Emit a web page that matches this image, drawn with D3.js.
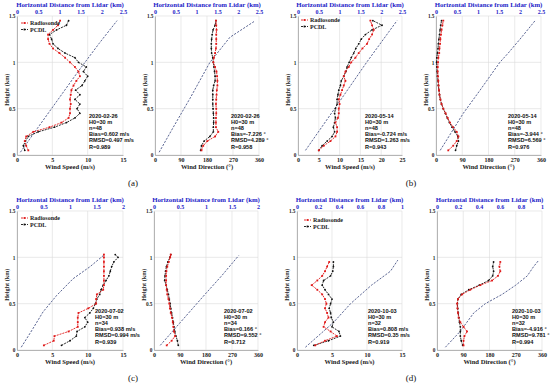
<!DOCTYPE html>
<html>
<head>
<meta charset="utf-8">
<script src="https://cdn.jsdelivr.net/npm/d3@7"></script>
<style>
body { margin: 0; background: #fff; }
svg { display: block; }
</style>
</head>
<body>
<script>
// 高度 (km)
const heightAB = [0.05,0.10,0.15,0.20,0.25,0.30,0.35,0.40,0.45,0.50,0.55,0.60,0.65,0.70,0.75,0.80,0.85,0.90,0.95,1.00,1.05,1.10,1.15,1.20,1.25,1.30,1.35,1.40,1.45];
const heightC = [0.05,0.10,0.15,0.20,0.25,0.30,0.35,0.40,0.45,0.50,0.55,0.60,0.65,0.70,0.75,0.80,0.85,0.90,0.95,1.00,1.03];
const heightD = [0.05,0.10,0.15,0.20,0.25,0.30,0.35,0.40,0.45,0.50,0.55,0.60,0.65,0.70,0.75,0.80,0.85,0.90,0.95];

// 2020-02-26
const speedRadA = [1.6,1.3,1.1,1.3,2.3,4.6,6.3,7.3,7.5,7.5,7.6,7.5,7.6,7.7,8.0,8.4,8.9,8.7,8.2,7.5,6.8,6.0,5.1,4.6,4.4,4.4,5.1,5.8,6.1];
const speedPcdlA = [1.1,0.9,1.2,1.6,3.0,5.3,7.0,8.2,8.9,8.5,8.9,8.2,8.9,8.3,9.2,9.6,10.0,9.4,9.8,8.7,8.2,6.8,5.8,5.1,4.9,4.6,5.6,7.0,7.3];
const dirRadA = [161,167,181,208,219,211,211,211,212,212,211,212,213,214,216,216,215,213,208,202,204,208,211,212,212,212,213,212,211];
const dirPcdlA = [158,161,170,190,202,202,203,203,202,201,200,200,200,200,203,208,208,206,204,202,200,196,195,195,196,198,201,208,211];
const distSpeedA = [[0.03,0.08],[0.3,0.5],[0.6,0.97],[0.9,1.44],[1.2,1.93],[1.45,2.36]];
const distDirA = [[0.03,0.1],[0.3,0.44],[0.61,0.84],[1.0,1.32],[1.27,1.8],[1.44,2.38]];

// 2020-05-14
const speedRadB = [5.0,6.2,7.8,9.0,9.4,9.4,9.0,9.6,9.8,9.8,10.0,9.8,10.2,10.6,11.0,11.4,11.0,11.4,12.2,12.8,13.8,14.6,15.5,16.6,17.1,17.8,18.2,17.8,17.4];
const speedPcdlB = [5.0,5.8,7.0,8.2,8.8,8.5,8.8,9.0,8.8,9.0,9.4,9.4,9.6,9.8,10.2,10.4,11.0,11.5,11.8,12.3,12.8,13.4,13.9,14.6,15.2,16.2,17.8,20.2,18.0];
const dirRadB = [42,59,71,77,71,59,48,40,33,25,19,15,12,10,9,8,7,6,6,7,8,11,12,14,15,17,19,22,25];
const dirPcdlB = [67,71,77,75,65,55,46,39,32,25,19,15,12,10,8,7,5,4,3,2,3,5,7,8,10,12,14,16,19];
const distSpeedB = [[0.05,0.18],[0.5,0.88],[1.0,1.65],[1.45,2.38]];
const distDirB = [[0.05,0.1],[0.45,0.65],[0.7,1.05],[1.0,1.52],[1.1,1.72],[1.25,2.0],[1.45,2.36]];

// 2020-07-02
const speedRadC = [3.8,5.2,5.3,7.3,8.6,8.6,8.6,8.7,10.1,11.2,11.2,11.3,12.2,12.3,12.3,12.3,12.3,12.3,12.3,12.3,12.3];
const speedPcdlC = [6.3,7.5,8.4,8.5,9.6,10.0,9.6,10.3,10.8,11.1,11.3,11.7,11.9,12.2,12.6,13.0,13.2,13.4,13.7,14.3,13.9];
const dirRadC = [44,61,73,69,67,65,62,58,55,53,50,46,44,42,42,42,43,46,51,56,58];
const dirPcdlC = [84,81,76,72,69,67,64,61,58,56,53,50,46,42,37,38,40,43,48,55,58];
const distSpeedC = [[0.03,0.08],[0.23,0.3],[0.41,0.49],[0.59,0.75],[0.77,1.06],[0.9,1.38],[1.02,1.63]];
const distDirC = [[0.05,0.12],[0.3,0.51],[0.6,0.98],[0.8,1.3],[1.02,1.63]];

// 2020-10-03
const speedRadD = [2.6,4.0,5.7,4.8,3.8,4.0,4.5,4.3,4.0,4.2,4.0,3.6,2.9,2.1,2.9,3.6,4.0,4.3,4.6];
const speedPcdlD = [2.4,4.5,6.2,6.0,5.0,5.2,4.9,4.8,4.6,4.8,5.0,4.5,4.0,3.6,3.8,4.8,5.1,5.2,5.2];
const dirRadD = [91,91,94,103,91,80,74,72,70,69,72,86,114,149,189,209,217,214,217];
const dirPcdlD = [88,83,80,80,80,77,75,73,71,70,72,83,109,145,177,191,194,191,194];
const distSpeedD = [[0.03,0.08],[0.3,0.35],[0.5,0.51],[0.7,0.71],[0.85,0.89],[0.97,0.96]];
const distDirD = [[0.03,0.08],[0.2,0.22],[0.4,0.35],[0.5,0.46],[0.6,0.62],[0.7,0.75],[0.8,0.86],[0.9,0.92],[0.97,0.97]];

// 刻度
const heightTicks = [0, 0.5, 1, 1.5];
const speedTicks15 = [0, 5, 10, 15];
const speedTicks25 = [0, 5, 10, 15, 20, 25];
const dirTicks = [0, 90, 180, 270, 360];
const distTicks25 = [0, 0.5, 1, 1.5, 2, 2.5];
const distTicks2 = [0, 0.5, 1, 1.5, 2];
const distTicks1 = [0, 0.2, 0.4, 0.6, 0.8, 1];

const statsA = ["2020-02-26", "H0=30 m", "n=48"];
const statsB = ["2020-05-14", "H0=30 m", "n=48"];
const statsC = ["2020-07-02", "H0=30 m", "n=34"];
const statsD = ["2020-10-03", "H0=30 m", "n=32"];

const W = 550, H = 390;
const serif = "'Liberation Serif', 'DejaVu Serif', serif";
const sans = "'Liberation Sans', Arial, sans-serif";
const blue = "#2424c8";

const svg = d3.select('body').append('svg')
    .attr('width', W)
    .attr('height', H);

// 单个子图
function createPanel(opt) {
    const { left, top, width, height, xMax, xTicks, topMax, topTicks, xTitle, heights, rad, pcdl, dist, stats, statsX, legend } = opt;
    const x = d3.scaleLinear().domain([0, xMax]).range([left, left + width]);
    const xt = d3.scaleLinear().domain([0, topMax]).range([left, left + width]);
    const y = d3.scaleLinear().domain([0, 1.5]).range([top + height, top]);
    const g = svg.append('g');

    // 网格
    g.append('g').selectAll('line').data(xTicks).join('line')
        .attr('x1', d => x(d)).attr('x2', d => x(d))
        .attr('y1', y(0)).attr('y2', y(1.5))
        .attr('stroke', '#dcdcdc').attr('stroke-width', 0.6);
    g.append('g').selectAll('line').data(heightTicks).join('line')
        .attr('x1', x(0)).attr('x2', x(xMax))
        .attr('y1', d => y(d)).attr('y2', d => y(d))
        .attr('stroke', '#dcdcdc').attr('stroke-width', 0.6);

    // 坐标轴
    const gy = g.append('g').attr('transform', `translate(${left},0)`)
        .call(d3.axisLeft(y).tickValues(heightTicks).tickSize(0).tickPadding(1.5).tickFormat(d3.format('')));
    const gx = g.append('g').attr('transform', `translate(0,${top + height})`)
        .call(d3.axisBottom(x).tickValues(xTicks).tickSize(0).tickPadding(3).tickFormat(d3.format('')));
    const gt = g.append('g').attr('transform', `translate(0,${top})`)
        .call(d3.axisTop(xt).tickValues(topTicks).tickSize(0).tickPadding(2).tickFormat(d3.format('')));
    [gy, gx, gt].forEach(a => {
        a.select('.domain').attr('stroke', '#9a9a9a').attr('stroke-width', 0.7);
        a.selectAll('text').attr('font-family', serif).attr('font-weight', 'bold').attr('font-size', 6).attr('fill', '#222');
    });
    gy.selectAll('text').attr('font-size', 5.3);
    gt.select('.domain').remove();
    gt.selectAll('text').attr('fill', blue);

    // 标题
    g.append('text').attr('x', left + width / 2).attr('y', top - 9)
        .attr('text-anchor', 'middle').attr('font-family', serif).attr('font-weight', 'bold')
        .attr('font-size', 6.8).attr('fill', blue)
        .text('Horizontal Distance from Lidar (km)');
    g.append('text').attr('x', left + width / 2).attr('y', top + height + 13.5)
        .attr('text-anchor', 'middle').attr('font-family', serif).attr('font-weight', 'bold')
        .attr('font-size', 6.6).attr('fill', '#222')
        .text(xTitle);
    g.append('text')
        .attr('transform', `translate(${left - 8.5},${top + height * 0.53}) rotate(-90)`)
        .attr('text-anchor', 'middle').attr('font-family', serif).attr('font-weight', 'bold')
        .attr('font-size', 6.2).attr('fill', '#222')
        .text('Height (km)');

    // 距离曲线
    const distLine = d3.line().x(d => xt(d[1])).y(d => y(d[0]));
    g.append('path').datum(dist)
        .attr('fill', 'none').attr('stroke', '#4a5688').attr('stroke-width', 0.9)
        .attr('stroke-dasharray', '2.2,1.4').attr('d', distLine);

    const line = d3.line().x(d => x(d[1])).y(d => y(d[0]));
    const series = [
        { name: 'PCDL', vals: pcdl, color: '#111', shape: 'dot' },
        { name: 'Radiosonde', vals: rad, color: '#e01818', shape: 'square' }
    ];
    series.forEach(s => {
        const pts = heights.map((h, i) => [h, s.vals[i]]);
        g.append('path').datum(pts)
            .attr('fill', 'none').attr('stroke', s.color).attr('stroke-width', 0.9)
            .attr('stroke-dasharray', '2,1').attr('d', line);
        const m = g.append('g').attr('fill', s.color).selectAll('rect').data(pts).join('rect')
            .attr('x', d => x(d[1]) - 0.9).attr('y', d => y(d[0]) - 0.9)
            .attr('width', 1.8).attr('height', 1.8);
        if (s.shape === 'dot') m.attr('rx', 0.9);
    });

    // 统计信息
    const st = g.append('g').attr('font-family', sans).attr('font-weight', 'bold')
        .attr('font-size', 5.6).attr('fill', '#111');
    st.selectAll('text').data(stats).join('text')
        .attr('x', statsX).attr('y', (d, i) => top + 101.5 + i * 6.2)
        .text(d => d);

    // 图例
    if (legend) {
        const lg = g.append('g').attr('transform', `translate(${legend[0]},${legend[1]})`);
        const item = lg.selectAll('g').data(series.slice().reverse()).join('g')
            .attr('transform', (d, i) => `translate(0,${i * 6.5})`);
        item.append('line').attr('x1', 0).attr('x2', 7).attr('y1', 0).attr('y2', 0)
            .attr('stroke', d => d.color).attr('stroke-width', 0.9).attr('stroke-dasharray', '2,1');
        item.append('rect').attr('x', 2.6).attr('y', -0.9).attr('width', 1.8).attr('height', 1.8)
            .attr('fill', d => d.color);
        item.append('text').attr('x', 9).attr('y', 2).attr('font-family', serif).attr('font-weight', 'bold')
            .attr('font-size', 6).attr('fill', '#222').text(d => d.name);
    }
}

const rowTop = [16, 211];
const ph = 139;
const spTitle = 'Wind Speed  (m/s)';
const drTitle = 'Wind Direction  (\u00b0)';

createPanel({ left: 17, top: rowTop[0], width: 106, height: ph, xMax: 15, xTicks: speedTicks15, topMax: 2.5, topTicks: distTicks25,
    xTitle: spTitle, heights: heightAB, rad: speedRadA, pcdl: speedPcdlA, dist: distSpeedA,
    stats: statsA.concat(["Bias=0.602 m/s", "RMSD=0.497 m/s", "R=0.989"]), statsX: 89, legend: [21, 23] });
createPanel({ left: 155, top: rowTop[0], width: 104, height: ph, xMax: 360, xTicks: dirTicks, topMax: 2.5, topTicks: distTicks25,
    xTitle: drTitle, heights: heightAB, rad: dirRadA, pcdl: dirPcdlA, dist: distDirA,
    stats: statsA.concat(["Bias=-7.226 \u00b0", "RMSD=4.289 \u00b0", "R=0.958"]), statsX: 231 });
createPanel({ left: 298, top: rowTop[0], width: 104, height: ph, xMax: 25, xTicks: speedTicks25, topMax: 2.5, topTicks: distTicks25,
    xTitle: spTitle, heights: heightAB, rad: speedRadB, pcdl: speedPcdlB, dist: distSpeedB,
    stats: statsB.concat(["Bias=-0.724 m/s", "RMSD=1.263 m/s", "R=0.943"]), statsX: 365, legend: [301, 20] });
createPanel({ left: 436, top: rowTop[0], width: 105, height: ph, xMax: 360, xTicks: dirTicks, topMax: 2.5, topTicks: distTicks25,
    xTitle: drTitle, heights: heightAB, rad: dirRadB, pcdl: dirPcdlB, dist: distDirB,
    stats: statsB.concat(["Bias=-3.944 \u00b0", "RMSD=6.569 \u00b0", "R=0.976"]), statsX: 508 });

createPanel({ left: 17, top: rowTop[1], width: 106, height: ph, xMax: 15, xTicks: speedTicks15, topMax: 2, topTicks: distTicks2,
    xTitle: spTitle, heights: heightC, rad: speedRadC, pcdl: speedPcdlC, dist: distSpeedC,
    stats: statsC.concat(["Bias=0.938 m/s", "RMSD=0.994 m/s", "R=0.939"]), statsX: 95, legend: [21, 218] });
createPanel({ left: 154, top: rowTop[1], width: 104, height: ph, xMax: 360, xTicks: dirTicks, topMax: 2, topTicks: distTicks2,
    xTitle: drTitle, heights: heightC, rad: dirRadC, pcdl: dirPcdlC, dist: distDirC,
    stats: statsC.concat(["Bias=0.166 \u00b0", "RMSD=9.552 \u00b0", "R=0.712"]), statsX: 224 });
createPanel({ left: 297, top: rowTop[1], width: 105, height: ph, xMax: 15, xTicks: speedTicks15, topMax: 1, topTicks: distTicks1,
    xTitle: spTitle, heights: heightD, rad: speedRadD, pcdl: speedPcdlD, dist: distSpeedD,
    stats: statsD.concat(["Bias=0.808 m/s", "RMSD=0.35 m/s", "R=0.919"]), statsX: 368, legend: [304, 220] });
createPanel({ left: 437, top: rowTop[1], width: 105, height: ph, xMax: 360, xTicks: dirTicks, topMax: 1, topTicks: distTicks1,
    xTitle: drTitle, heights: heightD, rad: dirRadD, pcdl: dirPcdlD, dist: distDirD,
    stats: statsD.concat(["Bias=-4.916 \u00b0", "RMSD=9.781 \u00b0", "R=0.994"]), statsX: 512 });

// 子图编号
const labels = [["(a)", 133, 186], ["(b)", 411, 186], ["(c)", 133, 381], ["(d)", 411, 381]];
svg.append('g').selectAll('text').data(labels).join('text')
    .attr('x', d => d[1]).attr('y', d => d[2])
    .attr('text-anchor', 'middle').attr('font-family', serif).attr('font-size', 9).attr('fill', '#111')
    .text(d => d[0]);
</script>
</body>
</html>
